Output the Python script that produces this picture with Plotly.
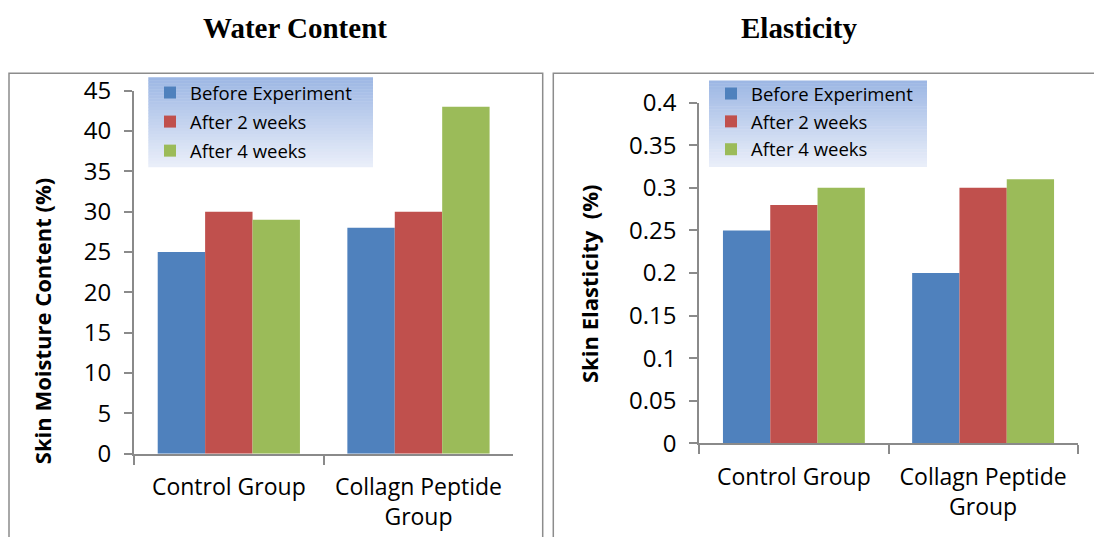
import plotly.graph_objects as go

# ---- data ----
groups = ["Control Group", "Collagn Peptide<br>Group"]
series_names = ["Before Experiment", "After 2 weeks", "After 4 weeks"]
series_colors = ["#4F81BD", "#C0504D", "#9BBB59"]

water_before = [25, 28]
water_2weeks = [30, 30]
water_4weeks = [29, 43]

elastic_before = [0.25, 0.20]
elastic_2weeks = [0.28, 0.30]
elastic_4weeks = [0.30, 0.31]

water_ticks = [0, 5, 10, 15, 20, 25, 30, 35, 40, 45]
elastic_ticks = [0, 0.05, 0.1, 0.15, 0.2, 0.25, 0.3, 0.35, 0.4]

# ---- page geometry (pixels -> paper coords) ----
W, H = 1094, 537


def px(x):
    return x / W


def py(y):
    return 1 - y / H


SANS = "Open Sans"
SERIF = "Liberation Serif"
AXIS_GREY = "#8A8A8A"

fig = go.Figure()

water_sets = [water_before, water_2weeks, water_4weeks]
elastic_sets = [elastic_before, elastic_2weeks, elastic_4weeks]

for name, color, vals in zip(series_names, series_colors, water_sets):
    fig.add_trace(go.Bar(
        x=groups, y=vals, name=name, marker=dict(color=color, line=dict(width=0)),
        xaxis="x", yaxis="y", legend="legend", legendgroup="w_" + name,
    ))

for name, color, vals in zip(series_names, series_colors, elastic_sets):
    fig.add_trace(go.Bar(
        x=groups, y=vals, name=name, marker=dict(color=color, line=dict(width=0)),
        xaxis="x2", yaxis="y2", legend="legend2", legendgroup="e_" + name,
    ))

xaxis_style = dict(
    type="category", showline=True, linecolor=AXIS_GREY, linewidth=2,
    ticks="outside", tickson="boundaries", ticklen=9, tickwidth=2, tickcolor=AXIS_GREY,
    tickfont=dict(family=SANS, size=23, color="black"), showgrid=False, zeroline=False,
    range=[-0.5, 1.5], ticklabelstandoff=12,
)
yaxis_style = dict(
    showline=True, linecolor=AXIS_GREY, linewidth=2, ticks="outside", ticklen=8,
    tickwidth=2, tickcolor=AXIS_GREY, tickfont=dict(family=SANS, size=24, color="black"),
    showgrid=False, zeroline=False, tickmode="array", ticklabelstandoff=8,
)

fig.update_layout(
    width=W, height=H, autosize=False,
    margin=dict(l=0, r=0, t=0, b=0, pad=0, autoexpand=False),
    paper_bgcolor="white", plot_bgcolor="white",
    barmode="group", bargap=0.25, bargroupgap=0,
    xaxis=dict(xaxis_style, domain=[px(134), px(513.3)], anchor="y"),
    yaxis=dict(yaxis_style, domain=[py(453.7), py(90.7)], range=[0, 45],
               tickvals=water_ticks, anchor="x"),
    xaxis2=dict(xaxis_style, domain=[px(699.3), px(1077.7)], anchor="y2"),
    yaxis2=dict(yaxis_style, domain=[py(443.3), py(102.7)], range=[0, 0.4],
                tickvals=elastic_ticks, anchor="x2"),
    legend=dict(x=px(150), y=py(74), xanchor="left", yanchor="top",
                bgcolor="rgba(0,0,0,0)", borderwidth=0, tracegroupgap=2,
                font=dict(family=SANS, size=18.5, color="black")),
    legend2=dict(x=px(711), y=py(75), xanchor="left", yanchor="top",
                 bgcolor="rgba(0,0,0,0)", borderwidth=0, tracegroupgap=0.8,
                 font=dict(family=SANS, size=18.5, color="black")),
    showlegend=True,
)

shapes = []

# gradient panels behind each legend
top_rgb = (157, 183, 228)
bot_rgb = (233, 238, 249)
strips = 30
for (x0, x1, y0, y1) in [(148.3, 373, 77.3, 166.7), (709, 927, 80.5, 166.5)]:
    step = (y1 - y0) / strips
    for i in range(strips):
        t = i / (strips - 1)
        c = tuple(round(a + (b - a) * t) for a, b in zip(top_rgb, bot_rgb))
        shapes.append(dict(
            type="rect", xref="paper", yref="paper", layer="below",
            x0=px(x0), x1=px(x1), y0=py(y0 + step * (i + 1) + 0.5), y1=py(y0 + step * i),
            fillcolor="rgb(%d,%d,%d)" % c, line=dict(width=0),
        ))

# outer chart frames
for (x0, x1) in [(9, 542.7), (553.3, 1100)]:
    shapes.append(dict(
        type="rect", xref="paper", yref="paper", layer="below",
        x0=px(x0), x1=px(x1), y0=py(545), y1=py(73.3),
        line=dict(color="#8C8C8C", width=1.5), fillcolor="rgba(0,0,0,0)",
    ))

fig.update_layout(shapes=shapes)

annotations = [
    dict(text="<b>Water Content</b>", x=px(295), y=py(28), xref="paper", yref="paper",
         showarrow=False, xanchor="center", yanchor="middle",
         font=dict(family=SERIF, size=29, color="black")),
    dict(text="<b>Elasticity</b>", x=px(798.5), y=py(28), xref="paper", yref="paper",
         showarrow=False, xanchor="center", yanchor="middle",
         font=dict(family=SERIF, size=29, color="black")),
    dict(text="<b>Skin Moisture Content (%)</b>", x=px(41.7), y=py(321.5),
         xref="paper", yref="paper", showarrow=False, textangle=-90,
         xanchor="center", yanchor="middle",
         font=dict(family=SANS, size=22, color="black")),
    dict(text="<b>Skin Elasticity  (%)</b>", x=px(589), y=py(284),
         xref="paper", yref="paper", showarrow=False, textangle=-90,
         xanchor="center", yanchor="middle",
         font=dict(family=SANS, size=22, color="black")),
]
fig.update_layout(annotations=annotations)

fig.write_html("out.html")
